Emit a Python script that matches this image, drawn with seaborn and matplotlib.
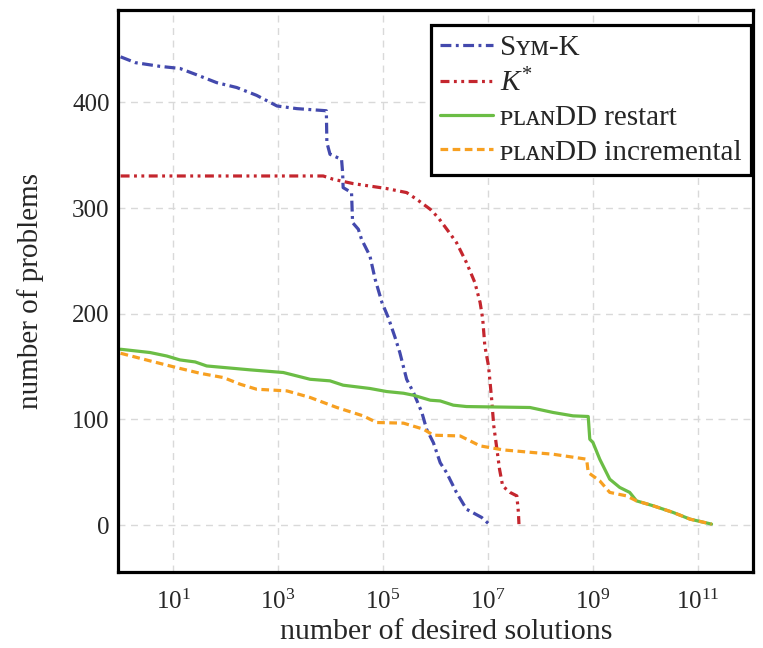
import numpy as np
import pandas as pd
import matplotlib
matplotlib.use('Agg')
import matplotlib.pyplot as plt
import seaborn as sns

sns.set_theme(style="white")
plt.rcParams['font.family'] = ['Liberation Serif', 'DejaVu Serif']
plt.rcParams['mathtext.fontset'] = 'custom'
plt.rcParams['mathtext.rm'] = 'Liberation Serif'
plt.rcParams['mathtext.it'] = 'Liberation Serif:italic'

# Series: x given as log10(number of desired solutions)
symk_logx = [0, 0.28, 0.75, 1.13, 1.45, 1.83, 2.21, 2.59, 2.98, 3.36, 3.92, 3.93, 3.99, 4.21,
             4.23, 4.24, 4.40, 4.42, 4.53, 4.59, 4.75, 4.85, 4.98, 5.10, 5.23, 5.32, 5.45,
             5.58, 5.74, 5.83, 5.96, 6.09, 6.21, 6.40, 6.59, 6.88, 7.02]
symk_y = [443, 437.5, 434, 432, 426, 418.6, 414, 406.6, 396.5, 394, 392, 362, 350.8, 346,
          333.5, 319.3, 314.6, 286.2, 279.9, 270.5, 254.7, 232.6, 210.6, 196.4, 177.5, 163.3, 138,
          125.5, 106.6, 90.8, 78, 59, 49.8, 30.9, 15.1, 7.3, 1]

kstar_logx = [0, 3.86, 4.05, 4.43, 5.07, 5.45, 5.64, 5.90, 6.05, 6.24, 6.40, 6.59, 6.75, 6.85,
              6.90, 6.94, 7.01, 7.04, 7.07, 7.11, 7.17, 7.22, 7.28, 7.42, 7.55, 7.58, 7.59]
kstar_y = [330.3, 330.3, 327.2, 323.1, 318.4, 314.6, 308.3, 298.8, 291, 278.3, 267.3, 248.4, 229.5, 210.6,
           194.8, 169.6, 150.6, 135, 119, 94, 72, 53, 37, 31, 27.7, 12, 1]

restart_logx = [0, 0.56, 0.88, 1.13, 1.42, 1.64, 2.47, 3.10, 3.61, 3.99, 4.24, 4.75, 5.07, 5.39,
                5.58, 5.90, 6.09, 6.34, 6.59, 7.80, 8.24, 8.62, 8.91, 8.94, 9.00, 9.13, 9.32,
                9.51, 9.70, 9.83, 10.15, 10.53, 10.85, 11.26]
restart_y = [166.4, 163.3, 160, 156.3, 154.4, 150.6, 146.9, 144.4, 138, 136.5, 132.4, 129.3, 126.4, 124.8,
             122.9, 118.2, 117.5, 113.5, 112.2, 111.3, 106.6, 103.4, 102.8, 81.3, 78.2, 62.4, 43.5,
             35.7, 31, 23, 18.3, 12, 5.7, 1]

incr_logx = [0, 0.56, 1.07, 1.51, 1.96, 2.28, 2.59, 3.17, 3.61, 4.12, 4.62, 4.88, 5.39, 5.77,
             5.96, 6.47, 6.85, 7.29, 7.86, 8.24, 8.88, 8.91, 9.13, 9.32, 9.64, 9.83, 10.15,
             10.53, 10.85, 11.26]
incr_y = [162.6, 155.4, 149, 143.7, 139.6, 133.3, 128.6, 127, 120.8, 111.3, 103.4, 97.1, 96.5, 90.8,
          85.1, 84.4, 75, 71.2, 68.7, 67.1, 62.4, 49.8, 41.9, 31, 27.7, 23, 18.3,
          12, 5.7, 1]

names = ['S\u028f\u1d0d-K', '$K^{*}$', '\u1d18\u029f\u1d00\u0274DD restart', '\u1d18\u029f\u1d00\u0274DD incremental']
colors = ['#4349ad', '#c4262e', '#6bbd45', '#f7a021']

frames = []
for name, lx, yv in zip(names, [symk_logx, kstar_logx, restart_logx, incr_logx],
                        [symk_y, kstar_y, restart_y, incr_y]):
    frames.append(pd.DataFrame({'x': 10.0 ** np.array(lx), 'y': yv, 'method': name}))
df = pd.concat(frames, ignore_index=True)

dashes = {names[0]: (3.4, 1.4, 0.9, 1.4),
          names[1]: (2.8, 1.4, 0.9, 1.4, 0.9, 1.4),
          names[2]: '',
          names[3]: (2.4, 1.4)}

fig = plt.figure(figsize=(7.63, 6.48), dpi=100)
ax = fig.add_axes([118 / 763, 1 - 572 / 648, (753 - 118) / 763, (572 - 10) / 648])

sns.lineplot(data=df, x='x', y='y', hue='method', style='method', hue_order=names,
             style_order=names, palette=colors, dashes=dashes, estimator=None,
             sort=False, linewidth=2.3, ax=ax, legend=False)

ax.set_xscale('log')
ax.set_xlim(10 ** -0.05, 10 ** 12.05)
ax.set_ylim(-44.3, 487.3)
ax.set_xticks([1e1, 1e3, 1e5, 1e7, 1e9, 1e11])
ax.xaxis.set_minor_locator(matplotlib.ticker.NullLocator())
ax.set_yticks([0, 100, 200, 300, 400])

ax.grid(True, color='#d9d9d9', linestyle=(0, (5, 4)), linewidth=1.0)
for s in ax.spines.values():
    s.set_linewidth(2.3)
    s.set_color('black')
ax.tick_params(direction='in', length=5, width=0.8, color='#777777',
               labelsize=18, top=False, right=False)
ax.tick_params(axis='y', pad=6)
ax.tick_params(axis='x', pad=13)

ax.set_xlabel('number of desired solutions', fontsize=21.5)
ax.xaxis.set_label_coords(0.5165, -0.083)
ax.set_ylabel('number of problems', fontsize=21, labelpad=20)

handles = [plt.Line2D([], [], color=c, linewidth=2.3,
                      dashes=dashes[n] if dashes[n] != '' else (None, None))
           for n, c in zip(names, colors)]
leg = ax.legend(handles, names, loc='upper right', bbox_to_anchor=(751 / 763, 1 - 25 / 648),
                bbox_transform=fig.transFigure, borderaxespad=0, fancybox=False,
                framealpha=1, edgecolor='black', fontsize=21, handlelength=1.8,
                labelspacing=0.27, borderpad=0.32, handletextpad=0.25)
leg.get_frame().set_linewidth(2.3)

fig.savefig('out.png', dpi=100)
